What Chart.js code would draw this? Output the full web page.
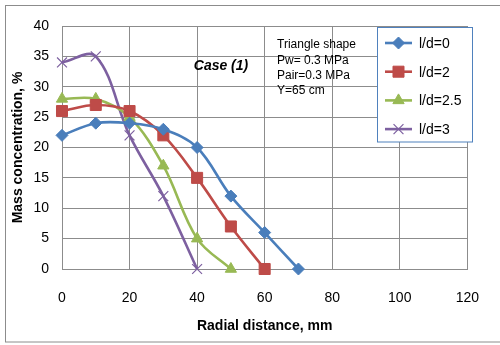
<!DOCTYPE html>
<html>
<head>
<meta charset="utf-8">
<script src="https://cdn.jsdelivr.net/npm/chart.js@4/dist/chart.umd.min.js"></script>
<style>
    html, body { margin: 0; padding: 0; background: #fff; }
    #wrap { width: 500px; height: 345px; position: relative; }
</style>
</head>
<body>
<div id="wrap"><canvas id="massChart"></canvas></div>
<script>
// radial distance (mm) for each series
const xLd0 = [0, 10, 20, 30, 40, 50, 60, 70];
const xLd2 = [0, 10, 20, 30, 40, 50, 60];
const xLd25 = [0, 10, 20, 30, 40, 50];
const xLd3 = [0, 10, 20, 30, 40];

// mass concentration (%)
const yLd0 = [22, 24, 24, 23, 20, 12, 6, 0];
const yLd2 = [26, 27, 26, 22, 15, 7, 0];
const yLd25 = [28, 28, 25, 17, 5, 0];
const yLd3 = [34, 35, 22, 12, 0];

const seriesNames = ["l/d=0", "l/d=2", "l/d=2.5", "l/d=3"];
const noteLines = ["Triangle shape", "Pw= 0.3 MPa", "Pair=0.3 MPa", "Y=65 cm"];
const caseLabel = "Case (1)";

const FONT = "'Liberation Sans', Arial, sans-serif";
const GRID = "#8c8c8c";

function toPoints(xs, ys) {
    return xs.map((x, i) => ({ x: x, y: ys[i] }));
}

function makeSet(label, xs, ys, color, style, radius) {
    return {
        label: label,
        data: toPoints(xs, ys),
        borderColor: color,
        backgroundColor: color,
        pointBackgroundColor: color,
        pointBorderColor: color,
        pointStyle: style,
        pointRadius: radius,
        pointBorderWidth: style === "crossRot" ? 1.2 : 1,
        borderWidth: 2.6,
        tension: 0.36,
        clip: false,
    };
}

// outer frame, note text, case label and the legend box
const decorPlugin = {
    id: "decor",
    beforeDraw(chart) {
        const ctx = chart.ctx;
        ctx.save();
        ctx.strokeStyle = "#8c8c8c";
        ctx.lineWidth = 1;
        ctx.strokeRect(5.5, 5.5, 520, 336.5);
        ctx.restore();
    },
    afterDraw(chart) {
        const ctx = chart.ctx;
        ctx.save();

        ctx.fillStyle = "#000";
        ctx.font = "bold italic 14px " + FONT;
        ctx.textAlign = "center";
        ctx.textBaseline = "middle";
        ctx.fillText(caseLabel, 221, 66);

        ctx.font = "12px " + FONT;
        ctx.textAlign = "left";
        noteLines.forEach((line, i) => {
            ctx.fillText(line, 277, 45 + i * 15.3);
        });

        // legend
        ctx.fillStyle = "#fff";
        ctx.fillRect(377.5, 27.5, 95, 114.5);
        ctx.strokeStyle = "#4F81BD";
        ctx.lineWidth = 1;
        ctx.strokeRect(377.5, 27.5, 95, 114.5);

        chart.data.datasets.forEach((ds, i) => {
            const y = 43 + i * 28.7;
            ctx.strokeStyle = ds.borderColor;
            ctx.lineWidth = 2.6;
            ctx.beginPath();
            ctx.moveTo(385, y);
            ctx.lineTo(412, y);
            ctx.stroke();
            ctx.fillStyle = ds.backgroundColor;
            ctx.strokeStyle = ds.borderColor;
            ctx.lineWidth = ds.pointBorderWidth;
            Chart.helpers.drawPoint(ctx, {
                pointStyle: ds.pointStyle,
                rotation: 0,
                radius: ds.pointRadius,
                borderWidth: ds.pointBorderWidth,
            }, 398.5, y);
            ctx.fillStyle = "#000";
            ctx.font = "14px " + FONT;
            ctx.textAlign = "left";
            ctx.textBaseline = "middle";
            ctx.fillText(ds.label, 419, y + 1);
        });

        ctx.restore();
    }
};

new Chart(document.getElementById("massChart"), {
    type: "line",
    data: {
        datasets: [
            makeSet(seriesNames[0], xLd0, yLd0, "#4A7EBB", "rectRot", 6),
            makeSet(seriesNames[1], xLd2, yLd2, "#BE4B48", "rect", 7.8),
            makeSet(seriesNames[2], xLd25, yLd25, "#98B954", "triangle", 6.5),
            makeSet(seriesNames[3], xLd3, yLd3, "#7D60A0", "crossRot", 7),
        ]
    },
    options: {
        responsive: true,
        maintainAspectRatio: false,
        animation: false,
        layout: { padding: { left: 0, top: 26, right: 18, bottom: 0 } },
        plugins: {
            legend: { display: false },
            tooltip: { enabled: false },
        },
        scales: {
            x: {
                type: "linear",
                min: 0,
                max: 120,
                ticks: {
                    stepSize: 20,
                    padding: 21,
                    color: "#000",
                    font: { family: FONT, size: 14 },
                },
                grid: { color: GRID, drawTicks: false },
                border: { color: GRID },
                title: {
                    display: true,
                    text: "Radial distance, mm",
                    color: "#000",
                    font: { family: FONT, size: 14, weight: "bold" },
                    padding: { top: 0, bottom: 10 },
                },
                afterFit(scale) { scale.height = 76; },
            },
            y: {
                min: 0,
                max: 40,
                ticks: {
                    stepSize: 5,
                    padding: 13,
                    color: "#000",
                    font: { family: FONT, size: 14 },
                },
                grid: { color: GRID, drawTicks: false },
                border: { color: GRID },
                title: {
                    display: true,
                    text: "Mass concentration, %",
                    color: "#000",
                    font: { family: FONT, size: 14, weight: "bold" },
                    padding: { top: 10, bottom: 0 },
                },
                afterFit(scale) { scale.width = 62; },
            }
        }
    },
    plugins: [decorPlugin]
});
</script>
</body>
</html>
